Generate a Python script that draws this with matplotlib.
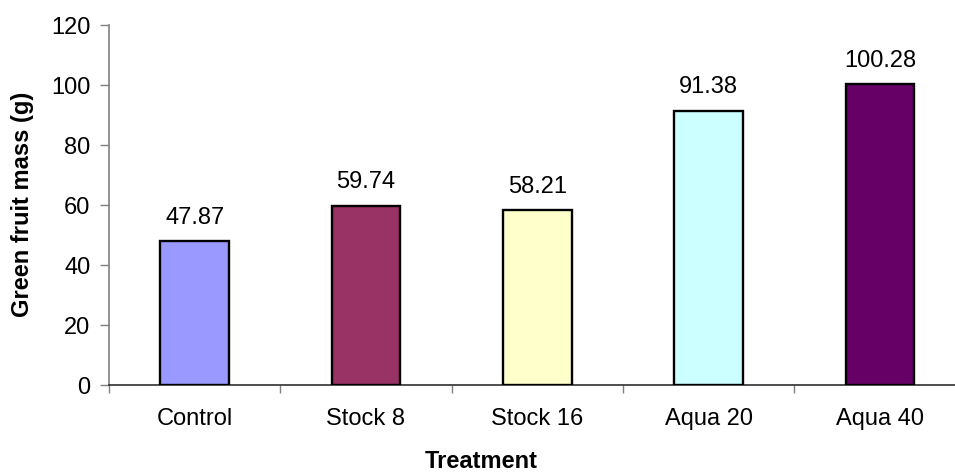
import matplotlib.pyplot as plt
import numpy as np

# Data
treatments = ["Control", "Stock 8", "Stock 16", "Aqua 20", "Aqua 40"]
fruit_mass = [47.87, 59.74, 58.21, 91.38, 100.28]
bar_colors = ["#9999FF", "#993366", "#FFFFCC", "#CCFFFF", "#660066"]
y_ticks = [0, 20, 40, 60, 80, 100, 120]

plt.rcParams['font.family'] = ['Liberation Sans', 'DejaVu Sans']

fig = plt.figure(figsize=(9.55, 4.75), dpi=100)
ax = fig.add_axes([109 / 955, 90 / 475, 5 * 171.3 / 955, 360 / 475])

x = np.arange(len(treatments))
ax.bar(x, fruit_mass, width=0.4, color=bar_colors, edgecolor="black", linewidth=1.7, zorder=3)

for xi, v in zip(x, fruit_mass):
    ax.annotate(f"{v:.2f}", (xi, v), xytext=(0, 12.7), textcoords="offset points",
                ha="center", va="baseline", fontsize=17)

ax.set_xlim(-0.5, len(treatments) - 0.5)
ax.set_ylim(0, 120)
ax.set_yticks(y_ticks)
ax.tick_params(axis="y", labelsize=17, length=6.5, width=1, color="#808080", pad=7)

# category labels at centres, tick marks at boundaries
ax.set_xticks(x)
ax.set_xticklabels(treatments, fontsize=17)
ax.tick_params(axis="x", which="major", length=0, pad=16.5)
ax.set_xticks(np.arange(-0.5, len(treatments), 1.0), minor=True)
ax.tick_params(axis="x", which="minor", length=6, width=1, color="#808080")

for s in ["top", "right"]:
    ax.spines[s].set_visible(False)
ax.spines["left"].set_color("#808080")
ax.spines["bottom"].set_color("#303030")
ax.spines["left"].set_linewidth(1.2)
ax.spines["bottom"].set_linewidth(1.2)

fig.text(22.5 / 955, 1 - 204 / 475, "Green fruit mass (g)", rotation=90, ha="center", va="center",
         fontsize=17, fontweight="bold")
fig.text(481 / 955, 1 - 462 / 475, "Treatment", ha="center", va="center",
         fontsize=17, fontweight="bold")

fig.savefig("out.png", dpi=100)
